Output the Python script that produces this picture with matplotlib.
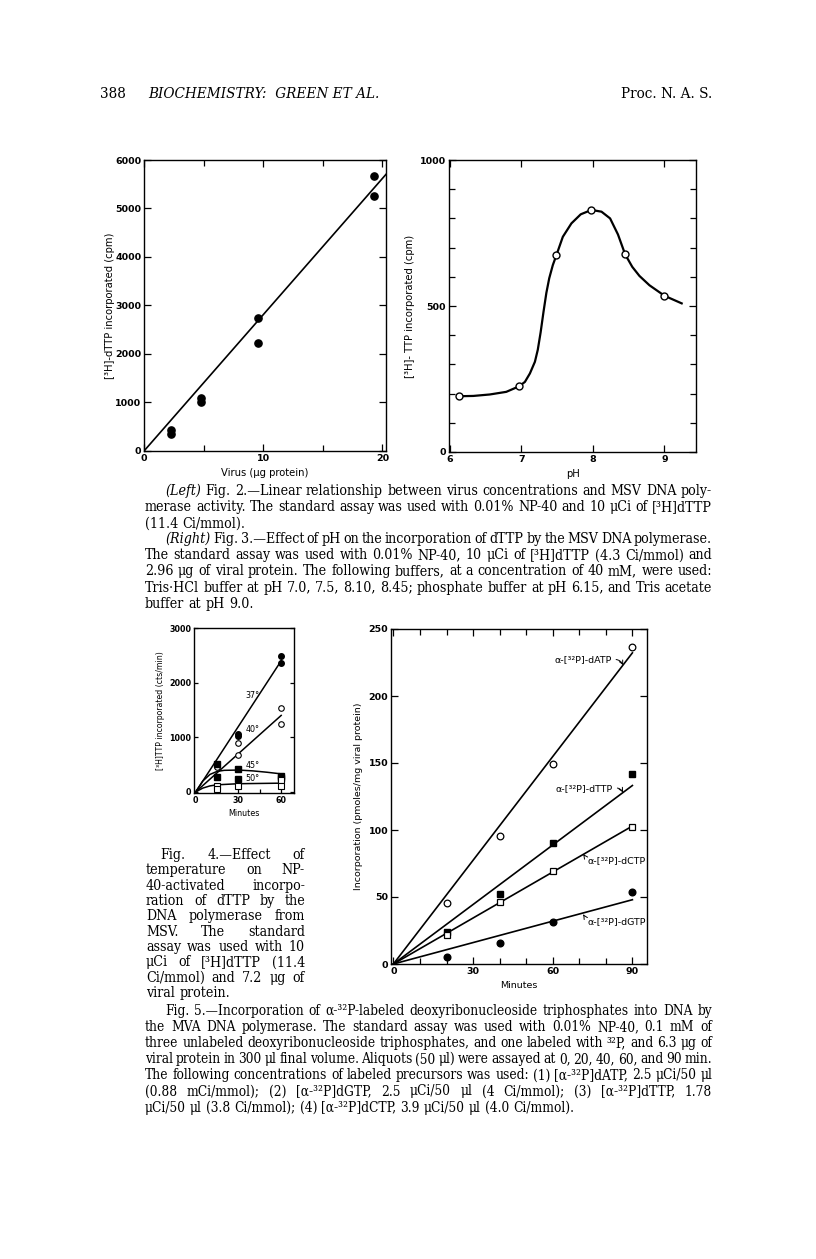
import numpy as np
import matplotlib
matplotlib.use("Agg")
import matplotlib.pyplot as plt

W, H = 816, 1259
SANS = ["Liberation Sans Narrow", "DejaVu Sans"]
SERIF = ["DejaVu Serif"]

# Fig. 2: virus amount vs incorporation
virus_ug = [2.3, 2.3, 4.8, 4.8, 9.6, 9.6, 19.3, 19.3]
virus_cpm = [346, 430, 1000, 1085, 2744, 2232, 5668, 5267]
virus_fit_slope = 281          # cpm per ug, straight line drawn in the figure

# Fig. 3: pH curve
ph_points = [6.13, 6.97, 7.49, 7.98, 8.45, 9.0]
ph_cpm = [191, 225, 674, 829, 677, 535]
ph_curve_x = [6.13, 6.33, 6.56, 6.79, 6.97, 7.05, 7.12, 7.19, 7.23, 7.27, 7.31,
              7.35, 7.39, 7.44, 7.49, 7.58, 7.70, 7.83, 7.98, 8.12, 8.24, 8.35,
              8.45, 8.55, 8.65, 8.79, 9.0, 9.24]
ph_curve_y = [191, 192, 197, 206, 225, 240, 269, 309, 350, 410, 480,
              545, 595, 640, 674, 737, 783, 814, 829, 823, 800, 745,
              677, 634, 603, 571, 535, 509]

# Fig. 4: temperature
t37_x = [15, 30, 30, 60, 60]
t37_y = [480, 1061, 1030, 2485, 2362]
t37_end = 2400
t40_x = [15, 30, 30, 60, 60]
t40_y = [460, 902, 675, 1534, 1245]
t40_end = 1400
t45_x = [15, 15, 30, 30, 60, 60]
t45_y = [503, 276, 417, 233, 290, 250]
t45_curve_x = [0, 5, 10, 15, 20, 30, 40, 50, 60]
t45_curve_y = [0, 200, 320, 375, 395, 400, 385, 360, 330]
t50_x = [15, 15, 30, 60, 60]
t50_y = [110, 60, 110, 215, 110]
t50_curve_x = [0, 5, 10, 15, 30, 45, 60]
t50_curve_y = [0, 70, 110, 130, 150, 155, 160]

# Fig. 5: labeled precursors
minutes = [20, 40, 60, 90]
datp = [45.4, 95.8, 149, 236.7]
dttp = [24, 52.4, 90.5, 142]
dctp = [21.5, 46.5, 69.5, 102]
dgtp = [5.5, 16, 31, 53.6]
fit5_slope = [2.58, 1.48, 1.144, 0.533]   # dATP, dTTP, dCTP, dGTP

# caption lines
capA = ["~(Left) Fig. 2.—Linear relationship between virus concentrations and MSV DNA poly-",
        "merase activity.  The standard assay was used with 0.01% NP-40 and 10 μCi of [³H]dTTP",
        "(11.4 Ci/mmol).",
        "~(Right) Fig. 3.—Effect of pH on the incorporation of dTTP by the MSV DNA polymerase.",
        "The standard assay was used with 0.01% NP-40, 10 μCi of [³H]dTTP (4.3 Ci/mmol) and",
        "2.96 μg of viral protein.  The following buffers, at a concentration of 40 mM, were used:",
        "Tris·HCl buffer at pH 7.0, 7.5, 8.10, 8.45; phosphate buffer at pH 6.15, and Tris acetate",
        "buffer at pH 9.0."]
capA_indent = [1, 0, 0, 1, 0, 0, 0, 0]
capA_last = [2, 7]
capB = ["Fig. 4.—Effect of",
        "temperature on NP-",
        "40-activated incorpo-",
        "ration of dTTP by the",
        "DNA polymerase from",
        "MSV.  The standard",
        "assay was used with 10",
        "μCi of [³H]dTTP (11.4",
        "Ci/mmol) and 7.2 μg of",
        "viral protein."]
capB_indent = [1, 0, 0, 0, 0, 0, 0, 0, 0, 0]
capB_last = [9]
capC = ["Fig. 5.—Incorporation of α-³²P-labeled deoxyribonucleoside triphosphates into DNA by",
        "the MVA DNA polymerase.  The standard assay was used with 0.01% NP-40, 0.1 mM of",
        "three unlabeled deoxyribonucleoside triphosphates, and one labeled with ³²P, and 6.3 μg of",
        "viral protein in 300 μl final volume.  Aliquots (50 μl) were assayed at 0, 20, 40, 60, and 90 min.",
        "The following concentrations of labeled precursors was used:  (1) [α-³²P]dATP, 2.5 μCi/50 μl",
        "(0.88 mCi/mmol);  (2) [α-³²P]dGTP, 2.5 μCi/50 μl (4 Ci/mmol);  (3) [α-³²P]dTTP, 1.78",
        "μCi/50 μl (3.8 Ci/mmol);  (4) [α-³²P]dCTP, 3.9 μCi/50 μl (4.0 Ci/mmol)."]
capC_indent = [1, 0, 0, 0, 0, 0, 0]
capC_last = [6]


fig = plt.figure(figsize=(W / 100, H / 100), dpi=100)
fig.patch.set_facecolor("white")
R = fig.canvas.get_renderer()


def px_axes(left, top, right, bottom):
    return fig.add_axes([left / W, 1 - bottom / H, (right - left) / W, (bottom - top) / H])


def put(x, y, s, **kw):
    return fig.text(x / W, 1 - y / H, s, **kw)


def style(ax, size):
    ax.tick_params(which="both", direction="in", top=True, right=True,
                   labelsize=size, pad=2, width=0.9)
    ax.tick_params(which="major", length=5)
    ax.tick_params(which="minor", length=4)
    for lab in ax.get_xticklabels() + ax.get_yticklabels():
        lab.set_family(SANS)
        lab.set_fontweight("bold")
    for sp in ax.spines.values():
        sp.set_linewidth(1.0)


def word_texts(line, y, size):
    out = []
    for w in line.split():
        it = w.startswith("~")
        out.append(put(0, y, w.lstrip("~"), fontsize=size, family=SERIF,
                       fontstretch="condensed",
                       style="italic" if it else "normal", va="baseline"))
    return out


def fit_size(line, width, size):
    # largest size for which the words still fit with a minimal gap
    ts = word_texts(line, -100, size)
    tot = sum(t.get_window_extent(R).width for t in ts)
    for t in ts:
        t.remove()
    n = len(ts) - 1
    min_gap = 0.2 * size * 100 / 72
    return size * (width - min_gap * n) / (tot + 1e-9) if tot + min_gap * n > width else size


def justify(line, x0, x1, y, size, last=False):
    ts = word_texts(line, y, size)
    widths = [t.get_window_extent(R).width for t in ts]
    if last or len(ts) == 1:
        gap = 0.3 * size * 100 / 72
    else:
        gap = (x1 - x0 - sum(widths)) / (len(ts) - 1)
    x = x0
    for t, w in zip(ts, widths):
        t.set_x(x / W)
        x += w + gap


blocks = [(capA, capA_indent, capA_last, 145, 712, 495, 16.1, 20),
          (capB, capB_indent, capB_last, 146, 305, 859, 15.35, 14),
          (capC, capC_indent, capC_last, 145, 712, 1015, 16.1, 20)]
for lines, ind, lasts, x0, x1, y0, step, indent in blocks:
    size = 10.2
    for i, s in enumerate(lines):
        if i not in lasts:
            size = min(size, fit_size(s, x1 - x0 - indent * ind[i], size))
    for i, s in enumerate(lines):
        justify(s, x0 + indent * ind[i], x1, y0 + step * i, size, i in lasts)

# header
put(100, 98, "388", fontsize=9.8, family=SERIF, va="baseline")
put(148, 98, "BIOCHEMISTRY:  GREEN ET AL.", fontsize=9.8, family=SERIF,
    style="italic", va="baseline")
put(712, 98, "Proc. N. A. S.", fontsize=9.8, family=SERIF, ha="right", va="baseline")

# ---- Fig. 2
ax2 = px_axes(144, 160, 386, 451)
ax2.plot(virus_ug, virus_cpm, "o", color="black", ms=5.2)
xx = np.array([0, 20.3])
ax2.plot(xx, virus_fit_slope * xx, color="black", lw=1.2)
ax2.set_xlim(0, 20.3)
ax2.set_ylim(0, 6000)
ax2.set_xticks([0, 10, 20])
ax2.set_xticks([5, 15], minor=True)
ax2.set_yticks(range(0, 6001, 1000))
style(ax2, 6.8)
ax2.set_xlabel("Virus (μg protein)", family=SANS, fontsize=7.2, labelpad=4)
ax2.set_ylabel("[³H]-dTTP incorporated (cpm)", family=SANS, fontsize=7.2, labelpad=0)

# ---- Fig. 3
ax3 = px_axes(449, 160, 696, 452)
ax3.plot(ph_curve_x, ph_curve_y, color="black", lw=1.6, solid_joinstyle="round")
ax3.plot(ph_points, ph_cpm, "o", mfc="white", mec="black", mew=1.0, ms=5)
ax3.set_xlim(5.99, 9.44)
ax3.set_ylim(0, 1000)
ax3.set_xticks([6, 7, 8, 9])
ax3.set_yticks([0, 500, 1000])
ax3.set_yticks(range(100, 1000, 100), minor=True)
style(ax3, 6.8)
ax3.set_xlabel("pH", family=SANS, fontsize=7.2, labelpad=4)
ax3.set_ylabel("[³H]- TTP incorporated (cpm)", family=SANS, fontsize=7.2, labelpad=4)

# ---- Fig. 4
ax4 = px_axes(194, 628, 294, 793)
ax4.plot([0, 60], [0, t37_end], color="black", lw=1.1)
ax4.plot([0, 60], [0, t40_end], color="black", lw=1.1)
ax4.plot(t45_curve_x, t45_curve_y, color="black", lw=1.1)
ax4.plot(t50_curve_x, t50_curve_y, color="black", lw=1.1)
ax4.plot(t37_x, t37_y, "o", color="black", ms=4)
ax4.plot(t40_x, t40_y, "o", mfc="white", mec="black", mew=0.8, ms=4)
ax4.plot(t45_x, t45_y, "s", color="black", ms=3.8)
ax4.plot(t50_x, t50_y, "s", mfc="white", mec="black", mew=0.8, ms=3.8)
for lab, yv in [("37°", 1767), ("40°", 1141), ("45°", 485), ("50°", 252)]:
    ax4.text(40, yv, lab, fontsize=5.8, family=SANS, ha="center", va="center")
ax4.set_xlim(-1.2, 69)
ax4.set_ylim(-20, 3000)
ax4.set_xticks([0, 30, 60])
ax4.set_xticks([15, 45], minor=True)
ax4.set_yticks([0, 1000, 2000, 3000])
style(ax4, 5.8)
ax4.tick_params(which="both", top=False, length=3)
ax4.set_xlabel("Minutes", family=SANS, fontsize=5.8, labelpad=3)
ax4.set_ylabel("[³H]TTP incorporated (cts/min)", family=SANS, fontsize=5.6, labelpad=3)

# ---- Fig. 5
ax5 = px_axes(391, 629, 647, 964)
xx = np.array([0, 90])
for k in fit5_slope:
    ax5.plot(xx, k * xx, color="black", lw=1.2)
ax5.plot(minutes, dttp, "s", color="black", ms=4.6)
ax5.plot(minutes, dctp, "s", mfc="white", mec="black", mew=0.9, ms=4.6)
ax5.plot(minutes, datp, "o", mfc="white", mec="black", mew=0.9, ms=4.8)
ax5.plot(minutes, dgtp, "o", color="black", ms=4.8)
arrow = dict(arrowstyle="->", lw=0.7, color="black", shrinkA=1, shrinkB=0,
             connectionstyle="arc3,rad=-0.4")
ax5.annotate("α-[³²P]-dATP", xy=(86.5, 223), xytext=(71.5, 227), fontsize=6.8,
             family=SANS, ha="center", va="center", arrowprops=dict(arrow, relpos=(1, 0.5)))
ax5.annotate("α-[³²P]-dTTP", xy=(86.5, 128), xytext=(72, 131), fontsize=6.8,
             family=SANS, ha="center", va="center", arrowprops=dict(arrow, relpos=(1, 0.5)))
ax5.annotate("α-[³²P]-dCTP", xy=(71.5, 82), xytext=(84, 77), fontsize=6.8,
             family=SANS, ha="center", va="center",
             arrowprops=dict(arrow, relpos=(0, 0.6), connectionstyle="arc3,rad=0"))
ax5.annotate("α-[³²P]-dGTP", xy=(71.5, 37), xytext=(84, 31.5), fontsize=6.8,
             family=SANS, ha="center", va="center",
             arrowprops=dict(arrow, relpos=(0, 0.6), connectionstyle="arc3,rad=0"))
ax5.set_xlim(-0.9, 95.5)
ax5.set_ylim(0, 250)
ax5.set_xticks([0, 30, 60, 90])
ax5.set_xticks([10, 20, 40, 50, 70, 80], minor=True)
ax5.set_yticks(range(0, 251, 50))
style(ax5, 6.8)
ax5.set_xlabel("Minutes", family=SANS, fontsize=6.8, labelpad=4)
ax5.set_ylabel("Incorporation (pmoles/mg viral protein)", family=SANS, fontsize=6.8, labelpad=4)

fig.savefig("out.png", dpi=100, facecolor="white")
